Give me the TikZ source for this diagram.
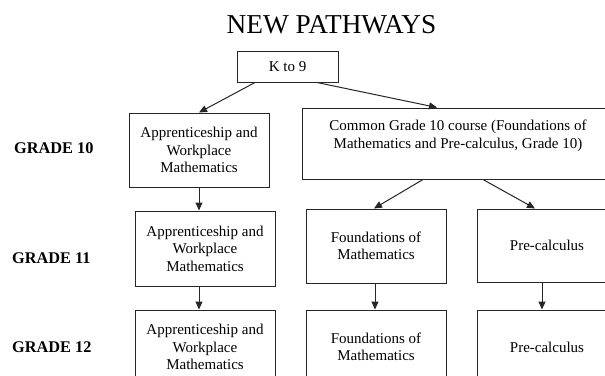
\documentclass[tikz,border=0pt]{standalone}
\usepackage{fontspec}
\setmainfont{Liberation Serif}
\usetikzlibrary{arrows.meta,calc}
\tikzset{
  box/.style={draw=black!85, line width=1pt, align=center, inner sep=0pt,
    minimum width=140pt, font=\fontsize{15}{17.5}\selectfont},
  arr/.style={draw=black!85, line width=1pt, -{Triangle[length=8pt,width=7pt]}},
  grade/.style={anchor=base west, inner sep=0pt, font=\fontsize{16.3}{18}\selectfont\bfseries},
}
\begin{document}
\begin{tikzpicture}[x=1pt,y=-1pt]
\useasboundingbox (0,0) rectangle (605,375);
\clip (0,0) rectangle (605,375);
\fill[white] (0,0) rectangle (605,375);
\node[anchor=base, inner sep=0pt, font=\fontsize{27.3}{30}\selectfont] (title) at (331.5,33) {NEW PATHWAYS};
\node[box, minimum width=101pt, minimum height=31pt] (k) at (287.5,66.5) {K to 9};
\node[box, minimum height=74pt] (aw10) at (199,150) {Apprenticeship and\\Workplace\\Mathematics};
\node[box, minimum width=312pt, minimum height=71pt, font=\fontsize{15}{18.5}\selectfont] (com) at (458,143.5) {Common Grade 10 course (Foundations of\\Mathematics and Pre-calculus, Grade 10)\\\mbox{}};
\node[box, minimum height=75pt] (aw11) at (205,248.5) {Apprenticeship and\\Workplace\\Mathematics};
\node[box, minimum height=74pt] (f11) at (376,246) {Foundations of\\Mathematics};
\node[box, minimum height=73pt] (pc11) at (547,245.5) {Pre-calculus};
\node[box, minimum height=74pt] (aw12) at (205,347) {Apprenticeship and\\Workplace\\Mathematics};
\node[box, minimum height=74pt] (f12) at (376,347) {Foundations of\\Mathematics};
\node[box, minimum height=74pt] (pc12) at (547,347) {Pre-calculus};
\node[grade] (g10) at (14,153) {GRADE 10};
\node[grade] (g11) at (12,263) {GRADE 11};
\node[grade] (g12) at (12,352) {GRADE 12};
\draw[arr] ($(k.south)+(-32.5,0)$) -- (aw10.north);
\draw[arr] ($(k.south)+(29.5,0)$) -- ($(com.north)+(-21,0)$);
\draw[arr] ($(com.south)+(-35,0)$) -- ($(f11.north)+(-2,0)$);
\draw[arr] ($(com.south)+(25,0)$) -- ($(pc11.north)+(-12,0)$);
\draw[arr] (aw10.south) -- (aw10.south |- aw11.north);
\draw[arr] ($(aw11.south)+(-6,0)$) -- ($(aw12.north)+(-6,0)$);
\draw[arr] ($(f11.south)+(-1,0)$) -- ($(f12.north)+(-1,0)$);
\draw[arr] ($(pc11.south)+(-5,0)$) -- ($(pc12.north)+(-5,0)$);
\end{tikzpicture}
\end{document}
